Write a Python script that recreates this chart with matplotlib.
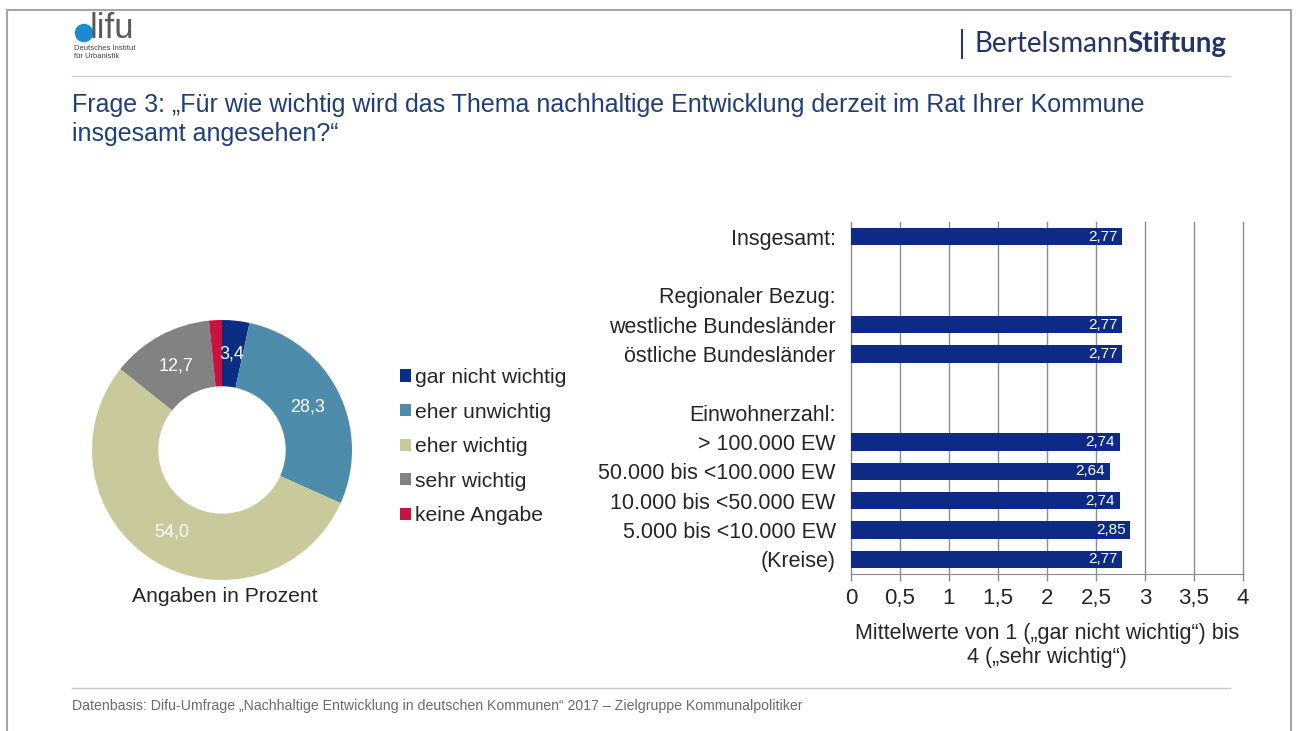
import matplotlib
matplotlib.use("Agg")
import matplotlib.pyplot as plt
from matplotlib.patches import Ellipse, Rectangle
from matplotlib.lines import Line2D
import numpy as np

W, H = 1296, 731

# donut: share of answers in percent
pie_labels = ["gar nicht wichtig", "eher unwichtig", "eher wichtig", "sehr wichtig", "keine Angabe"]
pie_values = [3.4, 28.3, 54.0, 12.7, 1.6]
pie_colors = ["#0c2d84", "#4d8dab", "#c9c99b", "#828282", "#c8123f"]
pie_shown = ["3,4", "28,3", "54,0", "12,7", ""]

# bars: mean values per group
bar_labels = ["Insgesamt:", "", "Regionaler Bezug:", "westliche Bundesländer",
              "östliche Bundesländer", "", "Einwohnerzahl:", "> 100.000 EW",
              "50.000 bis <100.000 EW", "10.000 bis <50.000 EW",
              "5.000 bis <10.000 EW", "(Kreise)"]
bar_values = [2.77, None, None, 2.77, 2.77, None, None, 2.74, 2.64, 2.74, 2.85, 2.77]
x_ticks = [0, 0.5, 1, 1.5, 2, 2.5, 3, 3.5, 4]

BAR_COLOR = "#0d2b84"
TITLE_COLOR = "#1f3e7a"
TEXT = "#262626"

plt.rcParams["font.family"] = ["Liberation Sans", "DejaVu Sans"]


def fx(x):
    return x / W


def fy(y):
    return 1 - y / H


def box(left, top, right, bottom):
    return [fx(left), fy(bottom), (right - left) / W, (bottom - top) / H]


fig = plt.figure(figsize=(W / 100, H / 100), dpi=100)
fig.patch.set_facecolor("white")

# slide frame and separator lines
fig.add_artist(Rectangle((fx(7), fy(760)), (1291 - 7) / W, (760 - 10) / H,
                         transform=fig.transFigure, fill=False, ec="#a6a6a6", lw=1.5))
fig.add_artist(Line2D([fx(72), fx(1230)], [fy(76), fy(76)], color="#cfcfcf", lw=1))
fig.add_artist(Line2D([fx(72), fx(1230)], [fy(688), fy(688)], color="#c8c8c8", lw=1))

# difu logo
fig.add_artist(Ellipse((fx(84), fy(33)), 17 / W, 17 / H, transform=fig.transFigure,
                       color="#1a8ad4", zorder=3))
fig.text(fx(90), fy(29), "lifu", fontsize=25, color="#5a5a5a", va="center", ha="left")
fig.text(fx(74), fy(49), "Deutsches Institut", fontsize=5.5, color="#444444", va="center")
fig.text(fx(74), fy(57), "für Urbanistik", fontsize=5.5, color="#444444", va="center")

# Bertelsmann Stiftung logo
fig.add_artist(Line2D([fx(962), fx(962)], [fy(30), fy(58)], color="#2b3a67", lw=1.5))
t1 = fig.text(fx(975), fy(44), "Bertelsmann", fontsize=20, color="#23346a",
              va="center", ha="left", family=["Lato", "DejaVu Sans"])
fig.canvas.draw()
ext = t1.get_window_extent()
fig.text((ext.x1 - 2) / W, fy(44), "Stiftung", fontsize=20, color="#23346a", va="center",
         ha="left", fontweight="bold", family=["Lato", "DejaVu Sans"])

# title
fig.text(fx(72), fy(105), "Frage 3: \u201eFür wie wichtig wird das Thema nachhaltige Entwicklung "
         "derzeit im Rat Ihrer Kommune", fontsize=18, color=TITLE_COLOR, va="center")
fig.text(fx(72), fy(134), "insgesamt angesehen?\u201c", fontsize=18, color=TITLE_COLOR,
         va="center")

# donut chart
axp = fig.add_axes(box(92, 320, 352, 580))
wedges, _ = axp.pie(pie_values, colors=pie_colors, startangle=90, counterclock=False,
                    radius=1, wedgeprops=dict(width=0.51, linewidth=0))
axp.set_xlim(-1, 1)
axp.set_ylim(-1, 1)
axp.set_aspect("equal")
cum = 0
for val, txt in zip(pie_values, pie_shown):
    mid = np.deg2rad(90 - (cum + val / 2) * 3.6)
    cum += val
    if txt:
        axp.text(0.74 * np.cos(mid), 0.74 * np.sin(mid), txt, color="white",
                 fontsize=13, ha="center", va="center")
fig.text(fx(225), fy(597), "Angaben in Prozent", fontsize=15.2, color=TEXT,
         ha="center", va="center")

fig.legend(wedges, pie_labels, loc="upper left", bbox_to_anchor=(fx(400), fy(368)),
           frameon=False, fontsize=15.2, handlelength=0.5, handleheight=0.5,
           handletextpad=0.2, labelspacing=0.74, borderpad=0, borderaxespad=0,
           labelcolor=TEXT)

# horizontal bar chart
axb = fig.add_axes(box(851, 222, 1243, 574))
ypos = np.arange(len(bar_labels))
vals = np.array([np.nan if v is None else v for v in bar_values])
axb.barh(ypos, np.nan_to_num(vals), height=0.6, color=BAR_COLOR, zorder=3)
for y, v in zip(ypos, bar_values):
    if v is not None:
        axb.text(v - 0.05, y, f"{v:.2f}".replace(".", ","), color="white", fontsize=11,
                 ha="right", va="center", zorder=4)
axb.set_xlim(0, 4)
axb.set_ylim(len(bar_labels) - 0.5, -0.5)
axb.set_yticks(ypos)
axb.set_yticklabels(bar_labels, fontsize=15.5, color=TEXT)
axb.tick_params(axis="y", length=0, pad=11)
axb.set_xticks(x_ticks)
axb.set_xticklabels([f"{t:g}".replace(".", ",") for t in x_ticks], fontsize=16, color=TEXT)
axb.tick_params(axis="x", length=5, width=1, color="#8c8c8c", pad=5)
axb.grid(axis="x", color="#8c8c8c", lw=1, zorder=0)
for gl in axb.get_xgridlines():
    gl.set_clip_on(False)
for side in ["top", "right", "left"]:
    axb.spines[side].set_visible(False)
axb.spines["bottom"].set_color("#8c8c8c")
axb.set_xlabel("Mittelwerte von 1 (\u201egar nicht wichtig\u201c) bis\n4 (\u201esehr wichtig\u201c)",
               fontsize=15.5, color=TEXT, labelpad=10, linespacing=1.2)

# footer
fig.text(fx(72), fy(706), "Datenbasis: Difu-Umfrage \u201eNachhaltige Entwicklung in deutschen "
         "Kommunen\u201c 2017 \u2013 Zielgruppe Kommunalpolitiker", fontsize=10.2,
         color="#6b6b6b", va="center")

fig.savefig("out.png", dpi=100)
